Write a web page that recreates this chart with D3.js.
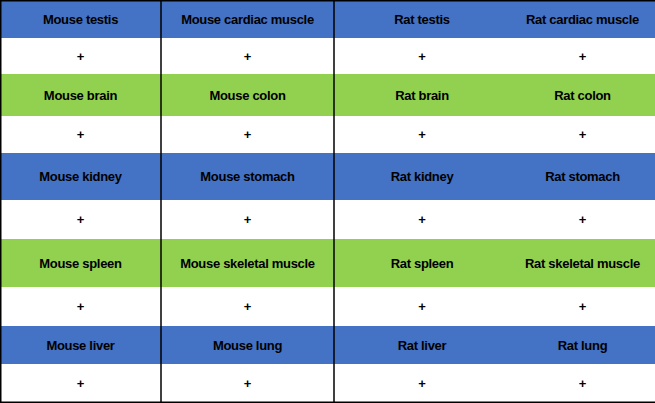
<!DOCTYPE html>
<html>
<head>
<meta charset="utf-8">
<script src="https://cdn.jsdelivr.net/npm/d3@7"></script>
<style>body{margin:0;background:#fff}</style>
</head>
<body>
<script>
// table content
const tissues = [
  ["Mouse testis", "Mouse cardiac muscle", "Rat testis", "Rat cardiac muscle"],
  ["Mouse brain", "Mouse colon", "Rat brain", "Rat colon"],
  ["Mouse kidney", "Mouse stomach", "Rat kidney", "Rat stomach"],
  ["Mouse spleen", "Mouse skeletal muscle", "Rat spleen", "Rat skeletal muscle"],
  ["Mouse liver", "Mouse lung", "Rat liver", "Rat lung"]
]
const results = [
  ["+", "+", "+", "+"],
  ["+", "+", "+", "+"],
  ["+", "+", "+", "+"],
  ["+", "+", "+", "+"],
  ["+", "+", "+", "+"]
]
const bandColors = ["#4472C4", "#92D050", "#4472C4", "#92D050", "#4472C4"]

// layout
const width = 655, height = 403
const colEdges = [0, 161, 334, 510, 655]
const rowEdges = [0, 38, 74, 116, 153, 200, 239, 287, 326, 364, 403]

const svg = d3.select('body').append('svg')
  .attr('width', width).attr('height', height)
  .attr('font-family', 'Liberation Sans, Arial, sans-serif')

const cells = []
tissues.forEach((row, r) => {
  row.forEach((t, c) => {
    cells.push({ r: r * 2, c, text: t, fill: bandColors[r] })
    cells.push({ r: r * 2 + 1, c, text: results[r][c], fill: "#ffffff" })
  })
})

svg.append('g').selectAll('rect').data(cells).join('rect')
  .attr('x', d => colEdges[d.c])
  .attr('y', d => rowEdges[d.r])
  .attr('width', d => colEdges[d.c + 1] - colEdges[d.c])
  .attr('height', d => rowEdges[d.r + 1] - rowEdges[d.r])
  .attr('fill', d => d.fill)

svg.append('g').selectAll('text').data(cells).join('text')
  .attr('x', d => (colEdges[d.c] + colEdges[d.c + 1]) / 2)
  .attr('y', d => (rowEdges[d.r] + rowEdges[d.r + 1]) / 2)
  .attr('text-anchor', 'middle')
  .attr('dominant-baseline', 'central')
  .attr('font-size', 13)
  .attr('font-weight', 'bold')
  .attr('letter-spacing', -0.3)
  .attr('fill', '#000')
  .text(d => d.text)

// grid lines
const g = svg.append('g').attr('stroke', '#000').attr('stroke-width', 1.5)
;[colEdges[1], colEdges[2]].forEach(x => g.append('line').attr('x1', x).attr('x2', x).attr('y1', 0).attr('y2', height))
g.append('line').attr('x1', 0.75).attr('x2', 0.75).attr('y1', 0).attr('y2', height)
g.append('line').attr('x1', 0).attr('x2', width).attr('y1', 0.75).attr('y2', 0.75)
g.append('line').attr('x1', 0).attr('x2', width).attr('y1', height - 0.75).attr('y2', height - 0.75)
</script>
</body>
</html>
